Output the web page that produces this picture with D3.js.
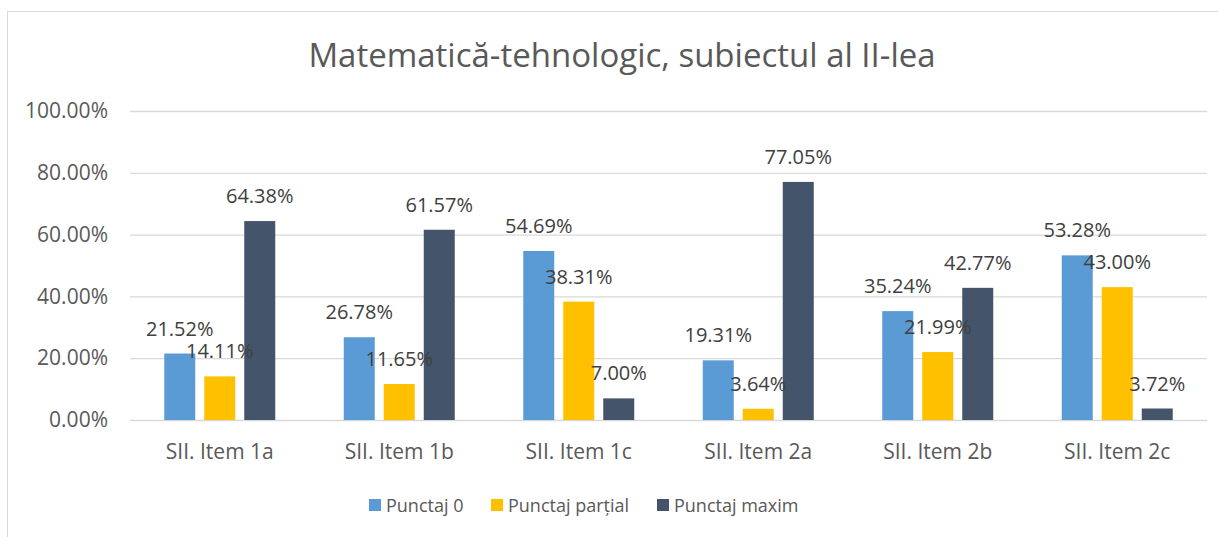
<!DOCTYPE html>
<html>
<head>
<meta charset="utf-8">
<style>
  body { margin: 0; background: #fff; }
</style>
</head>
<body>
<svg width="1218" height="537" font-family="'Open Sans', sans-serif"></svg>

<script src="https://d3js.org/d3.v7.min.js"></script>

<script>

var categories = ["SII. Item 1a", "SII. Item 1b", "SII. Item 1c", "SII. Item 2a", "SII. Item 2b", "SII. Item 2c"];
var seriesNames = ["Punctaj 0", "Punctaj parțial", "Punctaj maxim"];
var punctaj0 = [21.52, 26.78, 54.69, 19.31, 35.24, 53.28];
var punctajPartial = [14.11, 11.65, 38.31, 3.64, 21.99, 43.00];
var punctajMaxim = [64.38, 61.57, 7.00, 77.05, 42.77, 3.72];
var yTicks = [0, 20, 40, 60, 80, 100];
var colors = ["#5b9bd5", "#ffc000", "#44546a"];

var series = [punctaj0, punctajPartial, punctajMaxim];

var svg = d3.select("svg");

// chart frame
svg.append("rect")
    .attr("x", 7.5)
    .attr("y", 11.5)
    .attr("width", 1260)
    .attr("height", 560)
    .attr("fill", "none")
    .attr("stroke", "#d9d9d9")
    .attr("stroke-width", 1);

var x = d3.scaleBand()
    .domain(categories)
    .range([130, 1207]);

var groupW = 111;
var xs = d3.scaleBand()
    .domain(seriesNames)
    .range([(x.bandwidth() - groupW) / 2, (x.bandwidth() + groupW) / 2])
    .paddingInner(0.225);

var y = d3.scaleLinear()
    .domain([0, 100])
    .range([420, 111]);

// title
svg.append("text")
    .attr("x", 622)
    .attr("y", 67)
    .attr("text-anchor", "middle")
    .attr("fill", "#595959")
    .attr("font-size", 33)
    .text("Matematică-tehnologic, subiectul al II-lea");

// gridlines + y labels
var yAxis = d3.axisLeft(y)
    .tickValues(yTicks)
    .tickSize(-(1207 - 130))
    .tickFormat(function(d) { return d3.format(".2f")(d) + "%"; })
    .tickPadding(22);

var gy = svg.append("g")
    .attr("transform", "translate(130,0)")
    .call(yAxis);

gy.select(".domain").remove();
gy.selectAll(".tick line")
    .attr("stroke", "#d9d9d9")
    .attr("stroke-width", 1.3);
gy.selectAll(".tick text")
    .attr("fill", "#595959")
    .attr("font-size", 21)
    .attr("font-family", "'Open Sans', sans-serif");

// bars
var group = svg.selectAll(".cat")
    .data(categories)
    .enter().append("g")
      .attr("class", "cat")
      .attr("transform", function(d) { return "translate(" + x(d) + ",0)"; });

group.selectAll("rect")
    .data(function(d, i) {
      return seriesNames.map(function(s, j) { return { s: s, j: j, v: series[j][i] }; });
    })
    .enter().append("rect")
      .attr("x", function(d) { return xs(d.s); })
      .attr("y", function(d) { return y(d.v); })
      .attr("width", xs.bandwidth())
      .attr("height", function(d) { return y(0) - y(d.v); })
      .attr("fill", function(d) { return colors[d.j]; });

// data labels
group.selectAll(".lbl")
    .data(function(d, i) {
      return seriesNames.map(function(s, j) { return { s: s, j: j, v: series[j][i] }; });
    })
    .enter().append("text")
      .attr("class", "lbl")
      .attr("x", function(d) { return xs(d.s) + xs.bandwidth() / 2; })
      .attr("y", function(d) { return y(d.v) - 18; })
      .attr("text-anchor", "middle")
      .attr("fill", "#404040")
      .attr("font-size", 20)
      .text(function(d) { return d3.format(".2f")(d.v) + "%"; });

// category labels
svg.selectAll(".catlbl")
    .data(categories)
    .enter().append("text")
      .attr("class", "catlbl")
      .attr("x", function(d) { return x(d) + x.bandwidth() / 2; })
      .attr("y", 459)
      .attr("text-anchor", "middle")
      .attr("fill", "#595959")
      .attr("font-size", 21)
      .text(function(d) { return d; });

// legend
var legendX = [369, 491, 657];
var legend = svg.selectAll(".leg")
    .data(seriesNames)
    .enter().append("g")
      .attr("class", "leg")
      .attr("transform", function(d, i) { return "translate(" + legendX[i] + ",499)"; });

legend.append("rect")
    .attr("width", 12)
    .attr("height", 12)
    .attr("fill", function(d, i) { return colors[i]; });

legend.append("text")
    .attr("x", 17)
    .attr("y", 13)
    .attr("fill", "#595959")
    .attr("font-size", 18)
    .text(function(d) { return d; });

</script>
</body>
</html>
